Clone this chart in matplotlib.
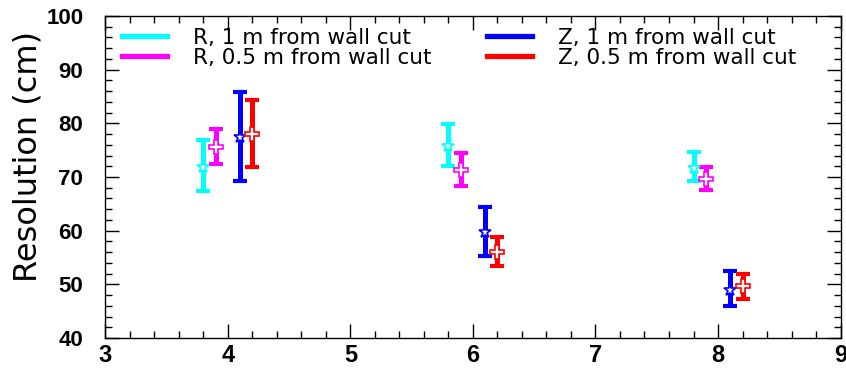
import matplotlib
matplotlib.use("Agg")
import matplotlib.pyplot as plt
from matplotlib.ticker import MultipleLocator

plt.rcParams['font.family'] = ['Liberation Sans', 'DejaVu Sans']

# Data
labels = ["R, 1 m from wall cut", "R, 0.5 m from wall cut",
          "Z, 1 m from wall cut", "Z, 0.5 m from wall cut"]
colors = ["#00ffff", "#ff00ff", "#0000ff", "#ff0000"]
markers = ["*", "P", "*", "P"]

x_r1 = [3.8, 5.8, 7.8]
y_r1 = [71.8, 75.8, 71.6]
lo_r1 = [67.3, 72.0, 69.2]
hi_r1 = [76.9, 79.8, 74.6]

x_r05 = [3.9, 5.9, 7.9]
y_r05 = [75.6, 71.3, 69.7]
lo_r05 = [72.5, 68.4, 67.6]
hi_r05 = [79.0, 74.5, 71.9]

x_z1 = [4.1, 6.1, 8.1]
y_z1 = [77.4, 59.8, 48.9]
lo_z1 = [69.2, 55.3, 46.0]
hi_z1 = [85.9, 64.5, 52.5]

x_z05 = [4.2, 6.2, 8.2]
y_z05 = [78.0, 56.0, 49.6]
lo_z05 = [71.9, 53.4, 47.3]
hi_z05 = [84.3, 58.8, 51.9]

series = [(x_r1, y_r1, lo_r1, hi_r1), (x_r05, y_r05, lo_r05, hi_r05),
          (x_z1, y_z1, lo_z1, hi_z1), (x_z05, y_z05, lo_z05, hi_z05)]

fig = plt.figure(figsize=(8.46, 3.74), dpi=100)
ax = fig.add_axes([0.1247, 0.0963, 0.8688, 0.8609])

handles = []
for (xs, ys, lo, hi), c, m, lab in zip(series, colors, markers, labels):
    yerr = [[y - l for y, l in zip(ys, lo)], [h - y for y, h in zip(ys, hi)]]
    ax.errorbar(xs, ys, yerr=yerr, fmt='none', ecolor=c, elinewidth=3.6,
                capsize=4.8, capthick=3.0, zorder=2)
    ax.plot(xs, ys, linestyle='none', marker=m, markersize=9.5,
            markerfacecolor='white', markeredgecolor=c, markeredgewidth=1.2, zorder=3)
    h, = ax.plot([], [], color=c, lw=3.8, label=lab)
    handles.append(h)

ax.set_xlim(3, 9)
ax.set_ylim(40, 100)
ax.xaxis.set_major_locator(MultipleLocator(1))
ax.xaxis.set_minor_locator(MultipleLocator(0.2))
ax.yaxis.set_major_locator(MultipleLocator(10))
ax.yaxis.set_minor_locator(MultipleLocator(2))
ax.tick_params(which='both', direction='in', top=True, right=True, width=1.0, color='black')
ax.tick_params(which='major', length=10)
ax.tick_params(which='minor', length=5)
ax.tick_params(axis='y', which='major', pad=16, labelsize=16)
ax.tick_params(axis='x', which='major', pad=4, labelsize=17)
for lab in ax.get_xticklabels() + ax.get_yticklabels():
    lab.set_fontweight('bold')
for s in ax.spines.values():
    s.set_linewidth(1.0)

ax.set_ylabel("Resolution (cm)", fontsize=23, family='DejaVu Sans')
ax.yaxis.set_label_coords(-0.085, 0.5637)

leg = ax.legend(handles=handles, ncol=2, frameon=False,
                prop={'family': 'DejaVu Sans', 'size': 15.5},
                loc='upper left', bbox_to_anchor=(0.006, 1.0),
                handlelength=2.1, handletextpad=1.2, columnspacing=2.6,
                labelspacing=0.0, borderaxespad=0.15)

fig.savefig("out.png", dpi=100, facecolor='white')
